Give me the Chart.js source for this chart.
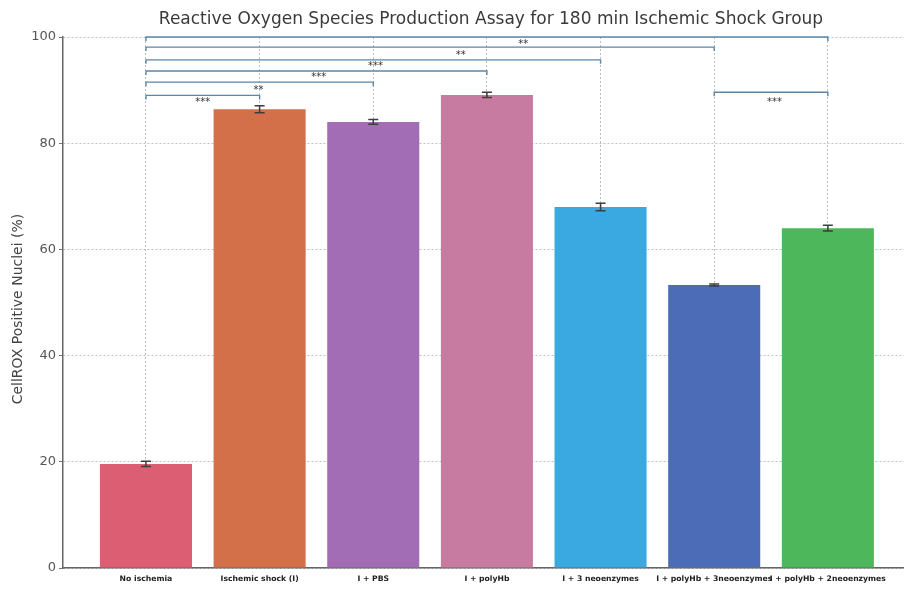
<!DOCTYPE html>
<html>
<head>
<meta charset="utf-8">
<script src="https://cdn.jsdelivr.net/npm/chart.js@4.4.1/dist/chart.umd.min.js"></script>
<style>
  html, body { margin: 0; padding: 0; background: #fff; }
  #wrap { width: 904px; height: 590px; position: relative; }
</style>
</head>
<body>
<div id="wrap"><canvas id="c" width="904" height="590"></canvas></div>
<script>
// Groups and measured CellROX positive nuclei (%)
const groups = [
  'No ischemia', 'Ischemic shock (I)', 'I + PBS', 'I + polyHb',
  'I + 3 neoenzymes', 'I + polyHb + 3neoenzymes', 'I + polyHb + 2neoenzymes'
];
const means = [19.6, 86.4, 84.0, 89.1, 68.0, 53.3, 64.0];
const errors = [0.5, 0.65, 0.45, 0.5, 0.7, 0.2, 0.55];
const barColors = ['#DC5E72', '#D3704A', '#A26DB4', '#C87BA1', '#3AA9E1', '#4D6CB8', '#4CB85B'];
const yTicks = [0, 20, 40, 60, 80, 100];

// Significance comparisons: [from group, to group, bracket height]
const brackets = [
  [0, 6, 100.0],
  [0, 5, 98.1],
  [0, 4, 95.7],
  [0, 3, 93.6],
  [0, 2, 91.5],
  [0, 1, 89.0],
  [5, 6, 89.6]
];
// Star annotations: [text, group position, height]
const stars = [
  ['**', 3.32, 98.9],
  ['**', 2.77, 97.0],
  ['***', 2.02, 94.9],
  ['***', 1.52, 92.7],
  ['**', 0.99, 90.4],
  ['***', 0.5, 88.1],
  ['***', 5.53, 88.1]
];

const titleText = 'Reactive Oxygen Species Production Assay for 180 min Ischemic Shock Group';
const yTitle = 'CellROX Positive Nuclei (%)';

const overlay = {
  id: 'overlay',
  afterDatasetsDraw(chart) {
    const { ctx, scales: { x, y } } = chart;
    ctx.save();
    // error bars
    ctx.strokeStyle = '#3d3d3d';
    ctx.lineWidth = 1.5;
    means.forEach((m, i) => {
      const px = x.getPixelForValue(i);
      const top = y.getPixelForValue(m + errors[i]);
      const bot = y.getPixelForValue(m - errors[i]);
      ctx.beginPath();
      ctx.moveTo(px, top); ctx.lineTo(px, bot);
      ctx.moveTo(px - 5, top); ctx.lineTo(px + 5, top);
      ctx.moveTo(px - 5, bot); ctx.lineTo(px + 5, bot);
      ctx.stroke();
    });
    // significance brackets
    ctx.strokeStyle = '#5A86A8';
    ctx.lineWidth = 1.4;
    brackets.forEach(([a, b, h]) => {
      const x1 = x.getPixelForValue(a);
      const x2 = x.getPixelForValue(b);
      const py = y.getPixelForValue(h);
      ctx.beginPath();
      ctx.moveTo(x1, py + 4);
      ctx.lineTo(x1, py);
      ctx.lineTo(x2, py);
      ctx.lineTo(x2, py + 4);
      ctx.stroke();
    });
    ctx.fillStyle = '#333';
    ctx.font = '10px "DejaVu Sans"';
    ctx.textAlign = 'center';
    ctx.textBaseline = 'middle';
    stars.forEach(([t, gx, h]) => {
      ctx.fillText(t, x.getPixelForValue(gx), y.getPixelForValue(h) + 2);
    });
    ctx.restore();
  },
  afterDraw(chart) {
    const { ctx } = chart;
    ctx.save();
    ctx.fillStyle = '#3a3a3a';
    ctx.textAlign = 'center';
    ctx.textBaseline = 'middle';
    ctx.font = '17px "DejaVu Sans"';
    ctx.fillText(titleText, 491, 20);
    ctx.translate(18, 309);
    ctx.rotate(-Math.PI / 2);
    ctx.fillStyle = '#444';
    ctx.font = '14px "DejaVu Sans"';
    ctx.fillText(yTitle, 0, 0);
    ctx.restore();
  }
};

new Chart(document.getElementById('c'), {
  type: 'bar',
  data: {
    datasets: [{
      data: means.map((v, i) => ({ x: i, y: v })),
      backgroundColor: barColors,
      borderWidth: 0,
      barPercentage: 0.81,
      categoryPercentage: 1.0
    }]
  },
  options: {
    responsive: false,
    animation: false,
    layout: { padding: { top: 37, right: 0, bottom: 0, left: 0 } },
    plugins: { legend: { display: false }, tooltip: { enabled: false }, title: { display: false } },
    scales: {
      x: {
        type: 'linear',
        min: -0.73,
        max: 6.67,
        offset: false,
        z: 1,
        afterBuildTicks(scale) { scale.ticks = groups.map((_, i) => ({ value: i })); },
        afterFit(scale) { scale.height = 22; },
        ticks: {
          autoSkip: false,
          maxRotation: 0,
          padding: 6,
          color: '#222',
          font: { family: 'DejaVu Sans', size: 7.7, weight: 'bold' },
          callback: (v) => groups[v]
        },
        grid: { offset: false, color: 'rgba(110,110,110,0.45)', lineWidth: 1, drawTicks: false },
        border: { display: true, color: '#666', width: 1.5, dash: [2, 2] }
      },
      y: {
        min: 0,
        max: 100,
        z: 1,
        afterBuildTicks(scale) { scale.ticks = yTicks.map(v => ({ value: v })); },
        afterFit(scale) { scale.width = 63; },
        ticks: {
          padding: 3,
          color: '#555',
          font: { family: 'DejaVu Sans', size: 13 }
        },
        grid: { color: 'rgba(110,110,110,0.45)', lineWidth: 1, tickLength: 4, tickColor: '#777', tickBorderDash: [] },
        border: { display: true, color: '#666', width: 1.5, dash: [2, 2] }
      }
    }
  },
  plugins: [overlay]
});
</script>
</body>
</html>
